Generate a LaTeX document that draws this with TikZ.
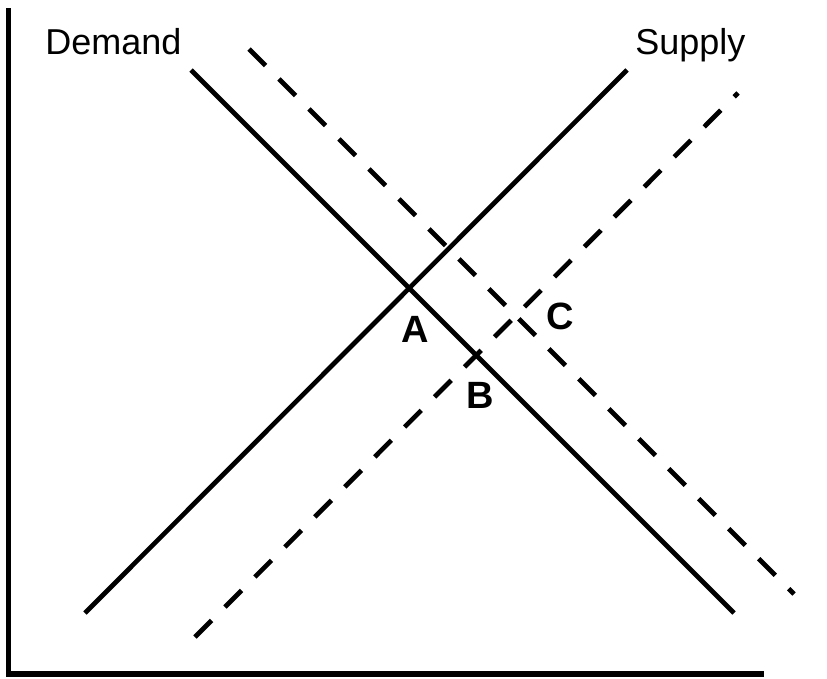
\documentclass[tikz,border=0pt]{standalone}
\usepackage{fontspec}
\setmainfont{Liberation Sans}

\begin{document}
\begin{tikzpicture}[x=1pt,y=-1pt,line width=4.7pt,
  curvename/.style={font=\fontsize{36}{40}\selectfont,anchor=base west,inner sep=0pt},
  pointname/.style={font=\fontsize{38}{42}\selectfont\bfseries,inner sep=0pt},
  shifted/.style={dash pattern=on 23.5pt off 18.9pt}]
  \useasboundingbox (0,0) rectangle (827,678);
  % axes
  \coordinate (ytop) at (8.5,8);
  \coordinate (origin) at (8.5,674);
  \coordinate (xend) at (764,674);
  \draw[line width=5.5pt,line join=miter] (ytop) -- (origin) -- (xend);
  % curve ends
  \coordinate (d1) at (191,70);   \coordinate (d2) at (734,613);
  \coordinate (s1) at (85,613);   \coordinate (s2) at (627,70);
  \coordinate (dd1) at (249,49);  \coordinate (dd2) at (794,594);
  \coordinate (ss1) at (195,637); \coordinate (ss2) at (738,93);
  \draw (d1) -- (d2);
  \draw (s1) -- (s2);
  \draw[shifted] (dd1) -- (dd2);
  \draw[shifted] (ss1) -- (ss2);
  % labels
  \node[curvename] (demand) at (43,54) {Demand};
  \node[curvename] (supply) at (633,54) {Supply};
  \node[pointname] (a) at (415,329) {A};
  \node[pointname] (b) at (480,395) {B};
  \node[pointname] (c) at (560,316) {C};
\end{tikzpicture}
\end{document}
